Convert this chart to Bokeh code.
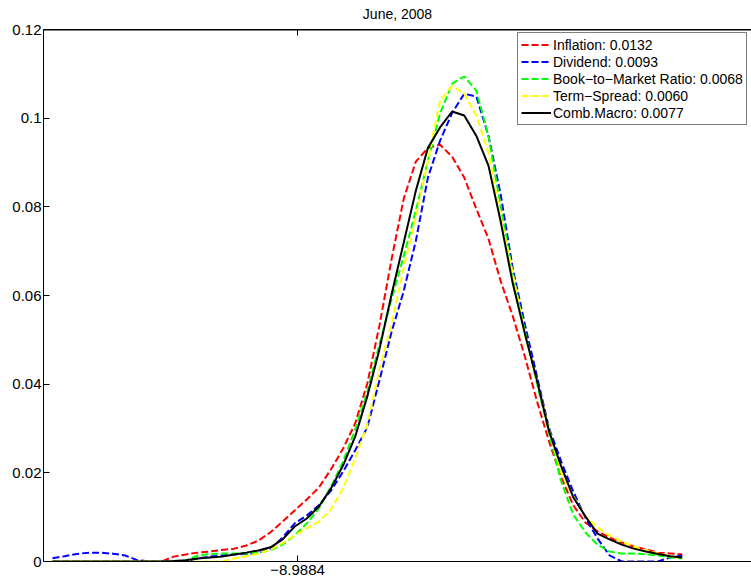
from bokeh.plotting import figure
from bokeh.models import (FixedTicker, LinearAxis, Legend, LegendItem, Range1d, Span)
from bokeh.embed import file_html
from bokeh.resources import INLINE

# ---------------- data ----------------
x_vals = [-10.00, -9.95, -9.90, -9.85, -9.80, -9.75, -9.70, -9.65, -9.60, -9.55,
          -9.50, -9.45, -9.40, -9.35, -9.30, -9.25, -9.20, -9.15, -9.10, -9.05,
          -9.00, -8.95, -8.90, -8.85, -8.80, -8.75, -8.70, -8.65, -8.60, -8.55,
          -8.50, -8.45, -8.40, -8.35, -8.30, -8.25, -8.20, -8.15, -8.10, -8.05,
          -8.00, -7.95, -7.90, -7.85, -7.80, -7.75, -7.70, -7.65, -7.60, -7.55,
          -7.50, -7.45, -7.40]

inflation = [0, 0, 0, 0, 0, 0, 0, 0, 0, 0,
             0.0011, 0.0016, 0.0020, 0.00226, 0.0026, 0.0029, 0.0036, 0.0047, 0.0066, 0.0090,
             0.0115, 0.0140, 0.0167, 0.0208, 0.0255, 0.0312, 0.0402, 0.0533, 0.0682, 0.0818,
             0.0902, 0.0933, 0.0940, 0.0913, 0.0866, 0.0795, 0.0728, 0.0633, 0.0554, 0.0463,
             0.0362, 0.0271, 0.0190, 0.0127, 0.0088, 0.0068, 0.0054, 0.0043, 0.0034, 0.0027,
             0.0020, 0.0018, 0.0016]

dividend = [0.00075, 0.0012, 0.0017, 0.0020, 0.00197, 0.00176, 0.00136, 0.0003, 0, 0,
            0, 0.0001, 0.0007, 0.0011, 0.00136, 0.0016, 0.0017, 0.0019, 0.0029, 0.0054,
            0.0086, 0.0104, 0.0127, 0.0160, 0.0203, 0.0251, 0.0303, 0.0409, 0.0518, 0.0610,
            0.0723, 0.0866, 0.0949, 0.1012, 0.1055, 0.1049, 0.0960, 0.0829, 0.0662, 0.0536,
            0.0418, 0.0301, 0.0226, 0.0158, 0.0099, 0.0052, 0.00136, 0, 0, 0,
            0, 0.0009, 0.00136]

book_to_market = [0, 0, 0, 0, 0, 0, 0, 0, 0, 0,
                  0, 0.0002, 0.00136, 0.0017, 0.0018, 0.0018, 0.0018, 0.0020, 0.0025, 0.0038,
                  0.0059, 0.0086, 0.0120, 0.0169, 0.0226, 0.0298, 0.0384, 0.0490, 0.0592, 0.0689,
                  0.0791, 0.0904, 0.1010, 0.1078, 0.1094, 0.1062, 0.0960, 0.0802, 0.0649, 0.0520,
                  0.0402, 0.0289, 0.0181, 0.0106, 0.0066, 0.0038, 0.00226, 0.0018, 0.0018, 0.0016,
                  0.00136, 0.0009, 0.0007]

term_spread = [0, 0, 0, 0, 0, 0, 0, 0, 0, 0,
               0, 0, 0, 0, 0, 0.0007, 0.0012, 0.0018, 0.0027, 0.0041,
               0.0059, 0.0075, 0.0090, 0.0118, 0.0165, 0.0233, 0.0310, 0.0434, 0.0536, 0.0662,
               0.0775, 0.0904, 0.1040, 0.1073, 0.1055, 0.1006, 0.0922, 0.0780, 0.0651, 0.0511,
               0.0407, 0.0298, 0.0201, 0.0147, 0.0102, 0.0077, 0.0059, 0.0045, 0.0034, 0.0025,
               0.0018, 0.0011, 0.0007]

comb_macro = [0, 0, 0, 0, 0, 0, 0, 0, 0, 0,
              0.0001, 0.0003, 0.0007, 0.0009, 0.0011, 0.0016, 0.0020, 0.0025, 0.0032, 0.0050,
              0.0079, 0.0097, 0.0124, 0.0165, 0.0217, 0.0282, 0.0373, 0.0479, 0.0603, 0.0719,
              0.0836, 0.0933, 0.0979, 0.1015, 0.1006, 0.0960, 0.0893, 0.0768, 0.0628, 0.0515,
              0.0409, 0.0294, 0.0215, 0.0145, 0.0102, 0.0063, 0.0050, 0.0038, 0.0029, 0.00226,
              0.0017, 0.0012, 0.0009]

series_labels = ["Inflation: 0.0132", "Dividend: 0.0093",
                 "Book\u2212to\u2212Market Ratio: 0.0068", "Term\u2212Spread: 0.0060",
                 "Comb.Macro: 0.0077"]

x_tick = [-8.9884]
x_tick_labels = ["\u22128.9884"]
y_ticks = [0, 0.02, 0.04, 0.06, 0.08, 0.1, 0.12]
y_tick_labels = ["0", "0.02", "0.04", "0.06", "0.08", "0.1", "0.12"]
title_text = "June, 2008"

# ---------------- figure ----------------
FONT = "Liberation Sans"

p = figure(width=751, height=586, output_backend="svg", toolbar_location=None,
           x_range=Range1d(-10.0372, -7.1140), y_range=Range1d(0, 0.12),
           min_border_left=43, min_border_right=0, min_border_top=0, min_border_bottom=25,
           x_axis_type=None, y_axis_type=None)
p.outline_line_color = None
p.background_fill_color = "white"
p.border_fill_color = "white"

p.title.text = title_text
p.title.align = "center"
p.title.vertical_align = "top"
p.title.text_font = FONT
p.title.text_font_size = "14px"
p.title.text_font_style = "normal"
p.title.text_color = "black"
p.title.standoff = 11

def style_axis(ax, ticks, labels, show_labels=True):
    ax.ticker = FixedTicker(ticks=ticks)
    ax.major_label_overrides = {t: l for t, l in zip(ticks, labels)}
    ax.major_tick_in = 6
    ax.major_tick_out = 0
    ax.minor_tick_in = 0
    ax.minor_tick_out = 0
    ax.axis_line_color = "black"
    ax.axis_line_width = 1
    ax.major_tick_line_color = "black"
    ax.major_label_text_font = FONT
    ax.major_label_text_color = "black"
    if show_labels:
        ax.major_label_text_font_size = "15px"
        ax.major_label_standoff = 3
    else:
        ax.major_label_text_font_size = "1px"
        ax.major_label_text_alpha = 0
        ax.major_label_standoff = 0

xb = LinearAxis()
style_axis(xb, x_tick, x_tick_labels)
p.add_layout(xb, "below")

xt = LinearAxis()
style_axis(xt, x_tick, ["" for _ in x_tick], show_labels=False)
p.add_layout(xt, "above")

yl = LinearAxis()
style_axis(yl, y_ticks, y_tick_labels)
yl.major_label_standoff = 2
p.add_layout(yl, "left")

# top edge of the axes box
p.add_layout(Span(location=y_ticks[-1], dimension="width", line_color="black",
                  line_width=2, level="overlay"))

p.xgrid.ticker = FixedTicker(ticks=x_tick)
p.ygrid.ticker = FixedTicker(ticks=y_ticks)
for g in (p.xgrid, p.ygrid):
    g.grid_line_color = "#999999"
    g.grid_line_dash = "1 3"
    g.grid_line_width = 1

colors = ["#ff0000", "#0000ff", "#00ff00", "#ffff00", "#000000"]
series = [inflation, dividend, book_to_market, term_spread, comb_macro]
dashes = ["7 3", "7 3", "7 3", "7 3", "solid"]

items = []
for vals, col, dash, lab in zip(series, colors, dashes, series_labels):
    r = p.line(x_vals, vals, line_color=col, line_width=2, line_dash=dash)
    items.append(LegendItem(label=lab, renderers=[r]))

legend = Legend(items=items, location=(474, 436))
legend.label_text_font = FONT
legend.label_text_font_size = "14px"
legend.label_text_color = "black"
legend.glyph_width = 30
legend.glyph_height = 17
legend.label_height = 17
legend.label_standoff = 2
legend.spacing = 0
legend.padding = 3
legend.margin = 0
legend.border_line_color = "black"
legend.border_line_width = 1
legend.background_fill_color = "white"
legend.background_fill_alpha = 1
p.add_layout(legend, "center")

open("out.html", "w").write(file_html(p, INLINE))
